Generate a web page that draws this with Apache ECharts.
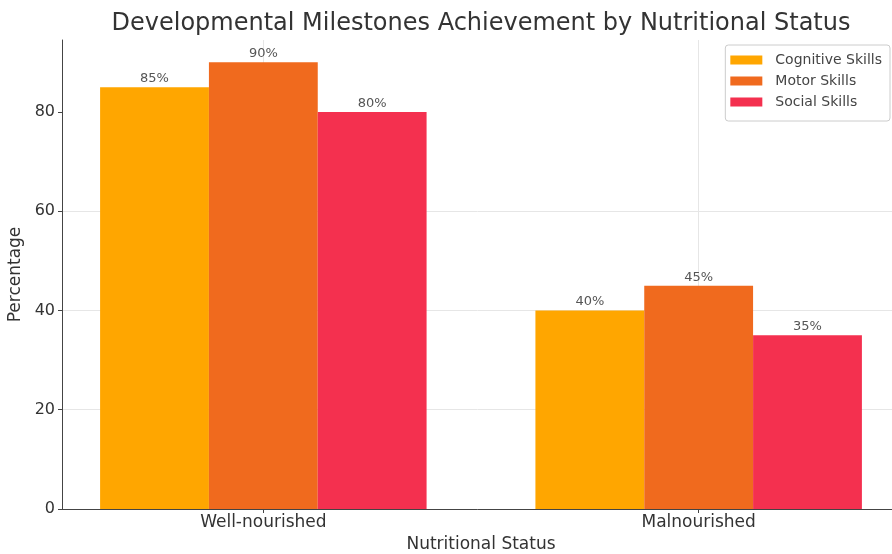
<!DOCTYPE html>
<html>
<head>
<meta charset="utf-8">
<script src="https://cdn.jsdelivr.net/npm/echarts@6/dist/echarts.min.js"></script>
<style>
html,body{margin:0;padding:0;background:#fff;}
#chart{width:892px;height:554px;}
</style>
</head>
<body>
<div id="chart"></div>
<script>
const categories = ['Well-nourished', 'Malnourished'];
const seriesNames = ['Cognitive Skills', 'Motor Skills', 'Social Skills'];
const cognitive = [85, 40];
const motor = [90, 45];
const social = [80, 35];
const yTicks = [0, 20, 40, 60, 80];

const colors = ['#FFA600', '#F06A1E', '#F4304F'];
const font = 'DejaVu Sans';

function toPoints(vals) {
  return vals.map((v, i) => [i, v]);
}

const valuesList = [cognitive, motor, social];

const series = valuesList.map((vals, si) => {
  const s = {
    name: seriesNames[si],
    type: 'bar',
    data: toPoints(vals),
    barWidth: '25%',
    barGap: '0%',
    itemStyle: { color: colors[si] },
    label: {
      show: true,
      position: 'top',
      distance: 2,
      fontFamily: font,
      fontSize: 13,
      color: '#555',
      formatter: p => p.value[1] + '%'
    },
    z: 2
  };
  if (si === 1) {
    s.markLine = {
      silent: true,
      symbol: 'none',
      z: 1,
      label: { show: false },
      lineStyle: { color: '#e6e6e6', width: 1, type: 'solid' },
      data: categories.map((c, i) => ({ xAxis: i }))
    };
  }
  return s;
});

const chart = echarts.init(document.getElementById('chart'), null, { renderer: 'canvas' });
chart.setOption({
  animation: false,
  backgroundColor: '#ffffff',
  textStyle: { fontFamily: font },
  title: {
    text: 'Developmental Milestones Achievement by Nutritional Status',
    left: 476,
    textAlign: 'center',
    top: 7,
    textStyle: { fontFamily: font, fontSize: 24, fontWeight: 'normal', color: '#333' }
  },
  legend: {
    orient: 'vertical',
    right: 2,
    top: 45,
    icon: 'rect',
    itemWidth: 32,
    itemHeight: 9,
    itemGap: 7,
    padding: [8, 8, 12, 5],
    borderColor: '#cccccc',
    borderWidth: 1,
    borderRadius: 3,
    backgroundColor: '#ffffff',
    textStyle: { fontFamily: font, fontSize: 14, color: '#444', padding: [0, 0, 0, 8] },
    data: seriesNames
  },
  grid: { left: 62, right: -8, top: 40, bottom: 45, containLabel: false, outerBoundsMode: 'none' },
  xAxis: {
    type: 'value',
    min: -0.4625,
    max: 1.4625,
    name: 'Nutritional Status',
    nameLocation: 'middle',
    nameGap: 26,
    nameTextStyle: { fontFamily: font, fontSize: 17, color: '#333' },
    axisLine: { show: true, onZero: false, lineStyle: { color: '#444', width: 1 } },
    axisTick: { show: true, length: 4, lineStyle: { color: '#444' }, customValues: [0, 1] },
    axisLabel: {
      customValues: [0, 1],
      fontFamily: font, fontSize: 17, color: '#333', margin: 5,
      formatter: v => categories[Math.round(v)]
    },
    splitLine: { show: false }
  },
  yAxis: {
    type: 'value',
    min: 0,
    max: 94.5,
    interval: 20,
    name: 'Percentage',
    nameLocation: 'middle',
    nameGap: 32,
    nameTextStyle: { fontFamily: font, fontSize: 17, color: '#333' },
    axisLine: { show: true, onZero: false, lineStyle: { color: '#444', width: 1 } },
    axisTick: { show: true, length: 4, lineStyle: { color: '#444' }, customValues: yTicks },
    axisLabel: {
      customValues: yTicks,
      fontFamily: font, fontSize: 16, color: '#333', margin: 7,
      formatter: v => String(v)
    },
    splitLine: { show: true, showMaxLine: false, lineStyle: { color: '#e6e6e6', width: 1 } }
  },
  series: series
});
</script>
</body>
</html>
